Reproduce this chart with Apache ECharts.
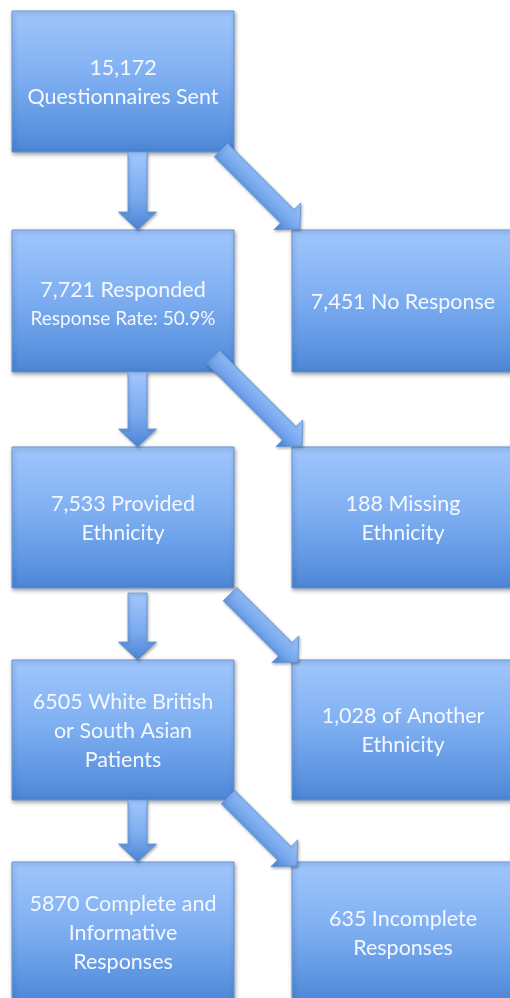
<!DOCTYPE html>
<html><head><meta charset="utf-8">
<script src="https://cdn.jsdelivr.net/npm/echarts@6/dist/echarts.min.js"></script>
<style>html,body{margin:0;padding:0;background:#fff;overflow:hidden}#c{width:510px;height:998px}</style>
</head><body><div id="c"></div>
<script>
// ---- data ----
const stageLabels = ['15,172\nQuestionnaires Sent', '7,721 Responded', '7,533 Provided\nEthnicity', '6505 White British\nor South Asian\nPatients', '5870 Complete and\nInformative\nResponses'];
const stageNotes = ['', 'Response Rate: 50.9%', '', '', ''];
const excludedLabels = ['', '7,451 No Response', '188 Missing\nEthnicity', '1,028 of Another\nEthnicity', '635 Incomplete\nResponses'];

// ---- layout (pixels in the 510x998 frame) ----
const COL_X = [12, 292];
const BOX_W = 222;
const ROW_Y = [11, 230, 447, 660, 862];
const ROW_H = [141, 142, 141, 140, 141];
const DOWN_X = 137.5;
const DOWN_START = [152, 372, 593, 800];
const DIAG_TAIL = [[221, 150], [213, 357], [230, 594], [228, 797]];
const DIAG_TIP = [[300, 229], [302, 446], [298, 662], [297, 866]];
const FONT = 'Lato, "Open Sans", sans-serif';
const MAIN_SIZE = 21.5, NOTE_SIZE = 19, LINE_H = 29;

const boxes = [];
stageLabels.forEach((lab, i) => {
  boxes.push({ col: 0, row: i, label: lab, note: stageNotes[i] });
  if (excludedLabels[i]) boxes.push({ col: 1, row: i, label: excludedLabels[i], note: '' });
});
const arrows = [];
for (let i = 0; i < stageLabels.length - 1; i++) {
  arrows.push({ kind: 'down', from: [DOWN_X, DOWN_START[i]], to: [DOWN_X, ROW_Y[i + 1]] });
  arrows.push({ kind: 'diag', from: DIAG_TAIL[i], to: DIAG_TIP[i] });
}

const boxGrad = {
  type: 'linear', x: 0, y: 0, x2: 0, y2: 1,
  colorStops: [
    { offset: 0, color: '#a0c6fc' },
    { offset: 0.45, color: '#80b0f2' },
    { offset: 0.85, color: '#5b93e0' },
    { offset: 1, color: '#4a84d3' }
  ]
};

function renderBox(params, api) {
  const b = boxes[params.dataIndex];
  const p0 = api.coord([COL_X[b.col], ROW_Y[b.row]]);
  const p1 = api.coord([COL_X[b.col] + BOX_W, ROW_Y[b.row] + ROW_H[b.row]]);
  let text = '{m|' + b.label + '}';
  if (b.note) text += '\n{n|' + b.note + '}';
  return {
    type: 'group',
    children: [
      {
        type: 'rect',
        shape: { x: p0[0], y: p0[1], width: p1[0] - p0[0], height: p1[1] - p0[1] },
        style: {
          fill: boxGrad, stroke: '#6596da', lineWidth: 1,
          shadowBlur: 4, shadowOffsetX: 1, shadowOffsetY: 2, shadowColor: 'rgba(0,0,0,0.35)'
        }
      },
      {
        type: 'text',
        x: (p0[0] + p1[0]) / 2, y: (p0[1] + p1[1]) / 2 + (b.note ? 3 : 1),
        style: {
          text: text, align: 'center', verticalAlign: 'middle',
          fill: '#f4f8fe', fontFamily: FONT,
          rich: {
            m: { fontSize: MAIN_SIZE, lineHeight: LINE_H, fontFamily: FONT, fill: '#f4f8fe' },
            n: { fontSize: NOTE_SIZE, lineHeight: 27, fontFamily: FONT, fill: '#f4f8fe' }
          }
        }
      }
    ]
  };
}

function renderArrow(params, api) {
  const a = arrows[params.dataIndex];
  const t = api.coord(a.from), p = api.coord(a.to);
  const dx = p[0] - t[0], dy = p[1] - t[1];
  const len = Math.hypot(dx, dy);
  const ux = dx / len, uy = dy / len;
  const nx = -uy, ny = ux;
  const h = 9.5, H = 19, HL = 18;
  const bx = p[0] - ux * HL, by = p[1] - uy * HL;
  const pts = [
    [t[0] + nx * h, t[1] + ny * h],
    [bx + nx * h, by + ny * h],
    [bx + nx * H, by + ny * H],
    [p[0], p[1]],
    [bx - nx * H, by - ny * H],
    [bx - nx * h, by - ny * h],
    [t[0] - nx * h, t[1] - ny * h]
  ];
  let fill;
  if (a.kind === 'down') {
    fill = { type: 'linear', x: 0, y: 0, x2: 0, y2: 1, colorStops: [
      { offset: 0, color: '#a2c7fc' }, { offset: 0.6, color: '#79a9ee' }, { offset: 1, color: '#4a84d3' }] };
  } else {
    // gradient across the arrow: light on the upper-right edge, dark on the lower-left edge
    const sx = nx < 0 ? -nx : nx, sy = nx < 0 ? -ny : ny;
    fill = { type: 'linear', global: true,
      x: t[0] + sx * H, y: t[1] + sy * H, x2: t[0] - sx * H, y2: t[1] - sy * H,
      colorStops: [{ offset: 0, color: '#a2c7fc' }, { offset: 0.55, color: '#78a8ee' }, { offset: 1, color: '#4a84d3' }] };
  }
  return {
    type: 'polygon',
    shape: { points: pts },
    style: { fill: fill, stroke: '#5f92da', lineWidth: 0.8,
      shadowBlur: 3, shadowOffsetX: 1, shadowOffsetY: 1.5, shadowColor: 'rgba(0,0,0,0.3)' }
  };
}

const chart = echarts.init(document.getElementById('c'), null, { renderer: 'canvas' });
chart.setOption({
  animation: false,
  backgroundColor: '#ffffff',
  grid: { left: 0, right: 0, top: 0, bottom: 0 },
  xAxis: { type: 'value', min: 0, max: 510, show: false },
  yAxis: { type: 'value', min: 0, max: 998, inverse: true, show: false },
  series: [
    { type: 'custom', name: 'boxes', z: 2, renderItem: renderBox,
      data: boxes.map(b => [COL_X[b.col], ROW_Y[b.row]]) },
    { type: 'custom', name: 'arrows', z: 3, renderItem: renderArrow,
      data: arrows.map(a => a.from) }
  ]
});
</script></body></html>
